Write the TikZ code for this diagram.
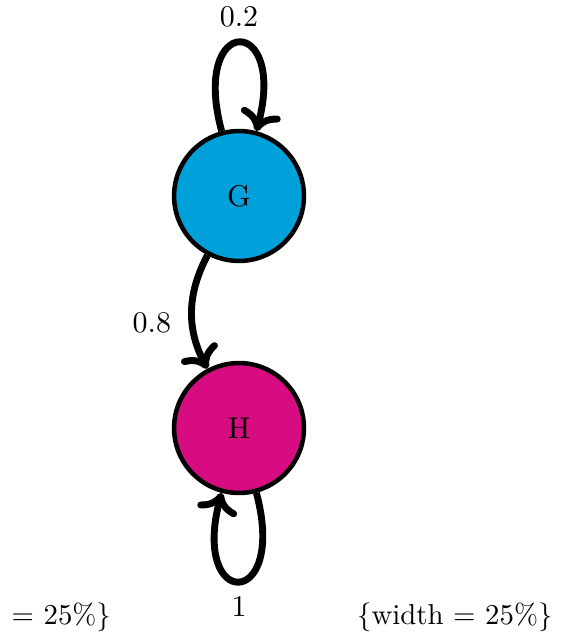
\documentclass[tikz,border=0pt]{standalone}
\usepackage{tikz}
\usetikzlibrary{positioning,arrows.meta}
\definecolor{gstate}{RGB}{0,160,218}
\definecolor{hstate}{RGB}{214,12,128}
\tikzset{
  state/.style    = {circle, draw=black, line width=1.5pt, minimum size=43.3pt,
                     inner sep=0pt, font=\normalsize},
  trans/.style    = {-{To[length=2.4mm, width=4.8mm]}, line width=2.3pt, draw=black},
  prob/.style     = {font=\normalsize, inner sep=1pt},
  captext/.style  = {font=\fontsize{9.6}{11}\selectfont, inner sep=1pt},
}

\begin{document}
\begin{tikzpicture}[x=0.3333pt, y=-0.3333pt]
\useasboundingbox (0,0) rectangle (560,634);

% ---- the two states ----
\node[state, fill=gstate] (g) at (239,196) {G};
\node[state, fill=hstate] (h) at (239,428) {H};

% ---- transitions ----
\draw[trans] (g) edge[loop above, looseness=9] node[prob, above=3pt] {0.2} (g);
\draw[trans] (g) to[bend right=28] node[prob, left=5pt, pos=0.6] {0.8} (h);
\draw[trans] (h) edge[loop below, looseness=9] node[prob, below=3pt] {1} (h);

% ---- stray caption text ----
\node[captext, anchor=west] (capl) at (8,617) {= 25\%\}};
\node[captext, anchor=east] (capr) at (556,617) {\{width = 25\%\}};

\end{tikzpicture}
\end{document}
